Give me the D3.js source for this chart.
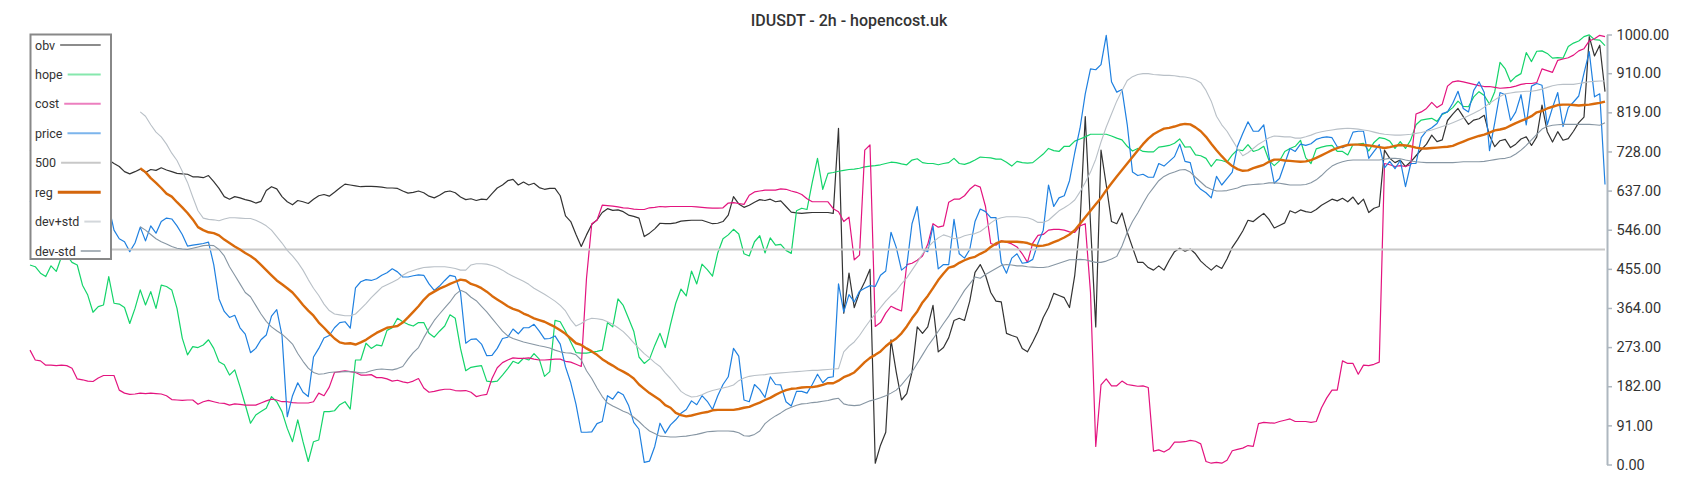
<!DOCTYPE html>
<html><head><meta charset="utf-8">
<script src="https://cdn.jsdelivr.net/npm/d3@7"></script>
<style>
html,body{margin:0;padding:0;background:#fff;}
svg{display:block;font-family:Roboto,"Noto Sans",sans-serif;}
</style></head>
<body><svg id="chart" width="1700" height="500"></svg>
<script>
const title = "IDUSDT - 2h - hopencost.uk";
const yTicks = [0, 91, 182, 273, 364, 455, 546, 637, 728, 819, 910, 1000];
const level500 = 500;
const bandStart = 21; // reg / dev bands begin at this bar index

const obv = [
730,735,728,740,732,725,730,720,722,715,718,712,710,715,712,708,700,693,681,676,
681,687,679,686,684,690,685,681,677,676,675,669,669,667,672,658,642,623,617,623,
620,616,613,608,612,637,646,641,623,611,604,614,611,607,617,625,628,624,633,643,652,
650,648,646,647,647,646,645,643,643,642,636,631,633,636,632,624,620,626,634,636,
632,622,616,618,614,617,616,630,643,650,660,663,650,657,650,654,644,640,642,642,
625,578,565,535,507,534,558,569,586,595,591,592,588,580,577,573,530,538,548,561,
560,560,562,566,567,568,568,568,564,560,561,565,580,623,606,598,603,610,616,614,
617,611,613,600,587,585,584,585,586,586,586,586,584,782,352,445,365,400,425,454,
3,45,75,290,215,150,165,215,320,305,320,370,262,272,295,335,340,335,380,447,
465,440,400,380,378,305,300,296,270,262,285,310,342,365,398,393,388,365,440,560,
809,560,320,731,650,565,560,585,540,505,470,470,458,452,462,452,475,495,503,496,
501,490,473,462,452,463,456,478,505,523,543,568,565,575,584,570,550,556,562,590,
585,592,588,586,593,603,610,617,613,619,611,622,605,617,586,596,600,731,712,702,
708,693,704,718,732,745,766,751,755,800,815,828,809,791,801,804,812,765,739,753,
756,737,745,757,762,742,762,836,774,750,774,754,758,775,795,808,995,950,975,867];

const hope = [
464,460,445,437,462,449,483,487,470,464,417,394,354,367,371,437,375,373,365,328,
363,406,371,402,363,417,414,406,363,294,255,274,272,278,290,270,239,232,208,220,
181,139,96,115,123,131,158,146,123,84,53,104,53,7,53,57,123,123,125,139,146,
129,243,243,282,270,278,276,312,318,340,332,326,322,330,330,305,296,310,322,348,
340,270,218,226,228,230,194,192,194,208,223,240,235,247,243,258,245,205,216,335,
332,310,285,260,259,259,261,263,266,330,320,385,370,340,310,250,235,245,277,305,
272,326,375,408,392,450,420,466,453,438,492,525,534,547,536,490,485,518,532,492,
527,510,512,498,491,590,596,593,656,712,640,677,679,682,684,686,687,689,692,694,
695,697,700,703,702,699,697,708,711,702,700,700,697,700,702,712,700,698,702,708,
715,714,713,710,710,703,694,705,702,701,702,712,722,735,730,728,740,740,752,757,
762,768,768,768,768,764,759,755,740,729,735,728,727,727,738,740,742,747,757,738,
739,720,718,712,693,709,707,703,720,732,730,744,728,732,740,707,695,706,728,735,
740,754,713,700,734,738,741,742,728,728,720,744,745,747,729,749,760,758,752,735,
751,735,755,790,801,803,805,798,814,820,830,845,833,832,855,867,858,838,867,935,
920,890,902,909,958,937,961,962,956,945,946,945,972,980,985,995,999,988,987,974];

const cost = [
266,243,241,231,231,230,231,230,224,199,197,194,193,201,207,207,207,173,166,163,
164,166,165,166,165,164,160,151,150,149,150,150,140,146,149,146,143,142,138,141,
140,138,138,138,143,148,152,150,146,146,144,143,143,143,146,166,160,180,214,216,218,
216,214,208,208,209,202,202,199,194,196,192,190,194,200,178,168,170,173,175,175,
172,171,172,168,158,161,163,200,225,237,243,248,247,247,248,245,243,243,244,245,
245,240,238,233,228,433,560,568,603,602,601,599,597,596,594,593,593,597,598,600,
599,600,600,600,600,600,599,598,597,596,596,597,608,609,607,605,626,634,636,638,
638,638,641,640,636,633,628,618,611,611,611,611,595,588,565,575,476,487,731,743,
321,330,352,368,362,357,465,468,475,485,512,560,552,555,610,617,617,625,640,650,
645,600,514,510,520,517,513,506,490,470,515,533,535,545,547,547,545,541,540,555,
560,400,42,185,199,183,183,194,186,184,182,183,179,31,34,29,36,52,52,53,
56,54,48,7,3,5,3,10,32,35,38,44,42,95,98,97,96,100,103,106,
100,100,100,98,100,132,155,173,173,241,235,235,210,231,230,233,238,700,697,693,
695,693,697,815,820,828,842,830,838,880,890,892,890,887,884,881,879,879,877,875,
876,877,880,884,886,886,888,920,916,912,940,943,946,952,962,967,985,990,998,995];

const price = [
610,620,605,630,615,600,625,610,640,620,600,615,590,605,620,600,545,525,518,495,
515,552,520,555,538,565,573,571,555,535,508,510,512,514,517,465,385,356,342,347,
318,303,260,270,290,301,345,360,300,111,160,190,168,158,250,270,294,300,318,330,332,
317,411,425,430,428,432,440,446,455,448,436,436,439,441,440,420,405,415,428,440,
437,400,282,291,292,280,253,254,270,293,296,315,304,318,318,326,310,292,293,299,
280,227,190,140,75,75,76,95,100,160,152,169,162,138,98,82,5,8,42,96,
73,92,104,119,128,148,139,160,147,128,160,186,204,270,252,150,146,186,174,156,
204,186,185,146,136,170,170,166,186,210,190,202,204,420,355,395,378,403,410,416,
414,440,450,540,505,452,462,560,600,500,495,555,455,465,465,570,490,480,500,565,
594,588,574,574,470,445,480,490,468,470,477,515,545,650,600,620,625,660,725,782,
862,920,918,930,998,890,866,872,790,680,672,675,668,668,700,694,705,716,745,705,
702,653,640,632,620,670,650,665,680,740,770,797,775,775,790,716,654,665,700,735,
728,745,742,746,756,760,762,760,739,737,743,773,775,775,712,728,744,690,705,688,
707,646,700,700,760,776,783,793,816,820,840,868,828,820,870,890,865,730,795,865,
860,800,820,860,790,880,886,882,790,830,865,786,830,843,857,910,960,855,862,651];

const reg = [
689,680,666,655,643,630,623,610,598,585,570,552,545,540,538,533,523,515,507,500,
492,485,476,464,452,440,428,419,410,400,386,371,358,346,330,318,305,293,284,281,
282,279,284,290,298,306,312,318,320,322,330,342,355,368,383,395,402,409,414,420,
425,430,428,420,416,410,402,392,384,376,368,362,358,351,346,340,336,332,326,320,
312,304,293,282,278,270,263,255,245,237,230,222,216,209,200,186,176,166,158,150,
138,132,120,115,112,114,117,120,122,126,127,127,127,127,129,132,134,139,144,150,
155,162,168,173,176,177,179,180,180,182,185,189,189,195,203,208,214,226,238,248,
255,263,275,285,293,305,321,340,356,377,392,410,429,444,458,461,469,475,480,483,
490,496,506,514,519,518,518,518,517,515,511,508,509,512,517,522,528,535,545,560,
575,590,605,620,638,654,670,685,700,715,730,745,758,768,775,781,783,786,790,792,
791,784,775,762,746,731,717,704,694,687,683,684,689,693,697,704,709,709,707,706,
705,704,705,708,713,719,725,731,736,740,743,744,744,743,742,740,738,736,738,741,
743,742,740,737,735,735,736,737,738,739,741,746,751,756,760,764,767,772,777,779,
782,788,794,799,804,810,819,822,828,832,836,837,837,836,835,836,837,839,841,844];

const devPlus = [
820,810,790,773,762,745,724,707,682,656,622,590,573,570,569,567,571,574,574,573,
572,572,568,562,555,545,530,515,498,485,470,452,430,410,393,373,358,350,348,346,
346,350,362,374,388,400,412,418,424,430,440,447,451,455,458,459,460,460,460,458,
456,452,452,464,467,467,466,463,458,452,444,438,432,426,419,410,403,396,388,380,
370,357,337,322,328,336,340,339,337,332,326,318,309,297,283,270,258,248,237,228,
213,200,185,170,162,157,158,162,168,172,175,178,181,185,195,201,205,207,208,209,
211,212,213,214,215,216,217,218,219,219,220,221,222,223,262,275,285,300,318,335,
350,365,380,393,404,420,434,452,470,490,505,517,527,534,530,525,527,532,535,537,
542,551,562,570,574,576,576,576,575,574,570,563,563,568,579,590,597,605,615,634,
656,680,710,750,785,815,845,870,893,902,907,909,909,907,906,905,905,904,902,901,
899,895,888,870,845,810,790,775,755,735,718,725,735,745,752,760,764,763,762,762,
759,759,762,766,771,774,776,778,780,781,782,781,780,778,776,773,770,768,767,766,
766,767,768,770,772,775,778,782,786,790,795,800,805,811,817,823,831,840,848,856,
862,864,866,867,868,868,870,873,877,881,883,884,884,884,886,888,890,891,892,892];

const devMinus = [
553,545,535,525,518,513,507,503,501,500,503,506,509,510,509,500,485,460,440,420,
400,390,370,350,333,320,311,303,292,280,258,240,224,214,210,211,214,215,215,216,
216,215,213,214,218,221,222,221,220,223,228,245,260,272,295,316,335,350,364,378,
395,405,400,389,381,368,355,340,325,310,299,293,289,285,282,279,276,274,271,266,
262,260,259,255,243,218,200,178,158,143,136,130,124,119,110,100,88,78,72,66,
65,64,64,65,66,68,70,73,76,77,78,78,78,77,74,67,66,70,78,95,
105,113,120,128,133,138,141,142,144,145,147,149,152,154,141,138,137,138,143,148,
151,155,160,166,173,185,200,215,235,255,275,292,310,328,345,365,385,405,420,436,
433,442,449,456,463,465,464,462,462,460,459,458,458,460,464,468,472,476,476,477,
476,473,470,470,473,478,484,508,540,565,585,607,628,644,660,670,676,680,685,686,
680,668,657,646,640,636,636,637,640,643,648,650,651,652,653,655,655,654,652,650,
650,650,651,655,662,672,684,694,700,704,707,708,708,708,708,708,708,710,712,712,
711,708,706,704,703,702,702,702,702,702,702,703,704,704,704,704,705,707,709,711,
712,715,722,731,742,755,768,780,786,789,790,791,791,791,791,791,791,790,789,795];

const nBars = obv.length;

const svg = d3.select("#chart");
const x = d3.scaleLinear().domain([0, nBars - 1]).range([30, 1605]);
const y = d3.scaleLinear().domain([0, 1000]).range([464.5, 34.5]);

const series = [
  {name:"obv",     data:obv,      start:0,         color:"#333333", w:1.2, lg:"#8c8c8c", lw:2},
  {name:"hope",    data:hope,     start:0,         color:"#14d46a", w:1.2, lg:"#86e8ad", lw:2},
  {name:"cost",    data:cost,     start:0,         color:"#e3147f", w:1.2, lg:"#ec7fbf", lw:2},
  {name:"price",   data:price,    start:0,         color:"#1f80e0", w:1.2, lg:"#7cb5ec", lw:2},
  {name:"500",     data:null,     start:0,         color:"#c8c8c8", w:2,   lg:"#c8c8c8", lw:2},
  {name:"reg",     data:reg,      start:bandStart, color:"#d96a0b", w:2.4, lg:"#d4660c", lw:3},
  {name:"dev+std", data:devPlus,  start:bandStart, color:"#b9c0c7", w:1.1, lg:"#d3d7db", lw:2},
  {name:"dev-std", data:devMinus, start:bandStart, color:"#8796a3", w:1.1, lg:"#aab3ba", lw:2}
];

const lineGen = d3.line().x(d => x(d[0])).y(d => y(d[1]));
const plot = svg.append("g");
series.forEach(s => {
  let pts;
  if (s.data === null) pts = [[0, level500], [nBars - 1, level500]];
  else pts = s.data.map((v, i) => [i + s.start, v]);
  plot.append("path").attr("d", lineGen(pts)).attr("fill", "none")
    .attr("stroke", s.color).attr("stroke-width", s.w).attr("stroke-linejoin", "round");
});

// right axis
const axisG = svg.append("g").attr("transform", "translate(1607,0)")
  .call(d3.axisRight(y).tickValues(yTicks).tickFormat(d3.format(".2f"))
    .tickSizeInner(5).tickSizeOuter(0).tickPadding(4.5));
axisG.select(".domain").attr("stroke", "#aeb7bf").attr("stroke-width", 2);
axisG.selectAll(".tick line").attr("stroke", "#aeb7bf").attr("stroke-width", 1.5);
axisG.selectAll(".tick text").attr("fill", "#333").style("font-size", "14.5px")
  .style("font-family", "Roboto");

// title
svg.append("text").attr("x", 849).attr("y", 26).attr("text-anchor", "middle")
  .attr("fill", "#333").style("font-size", "16px").style("font-weight", "500").text(title);

// legend
const lg = svg.append("g");
lg.append("rect").attr("x", 30.5).attr("y", 34.5).attr("width", 80.5).attr("height", 224.5)
  .attr("fill", "#fff").attr("stroke", "#888").attr("stroke-width", 2);
series.forEach((s, j) => {
  const cy = 45 + j * 29.43;
  const t = lg.append("text").attr("x", 35).attr("y", cy + 4.5).attr("fill", "#333")
    .style("font-size", "12.5px").text(s.name);
  const tw = t.node().getComputedTextLength();
  lg.append("line").attr("x1", 35 + tw + 5).attr("x2", 100.7).attr("y1", cy).attr("y2", cy)
    .attr("stroke", s.lg).attr("stroke-width", s.lw);
});
</script></body></html>
